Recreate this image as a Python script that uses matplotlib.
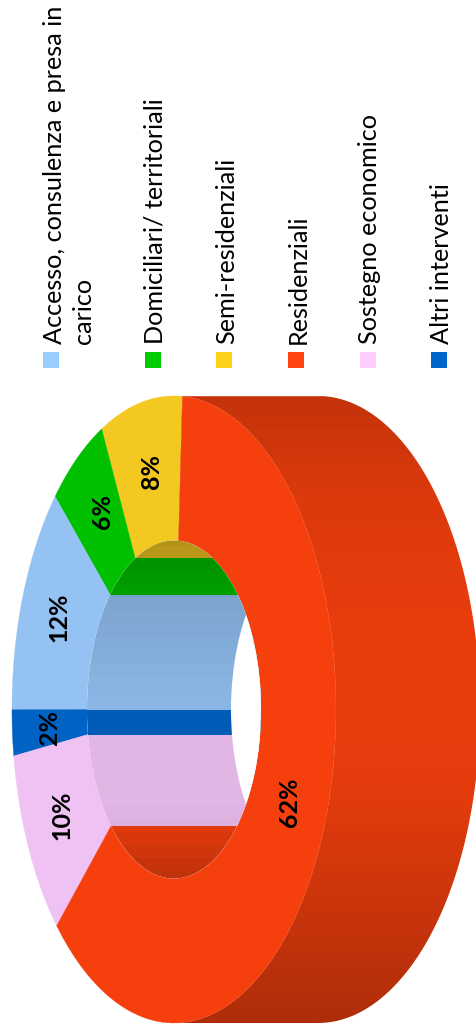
# -*- coding: utf-8 -*-

import numpy as np
from matplotlib import pyplot as plt
from matplotlib.colors import to_rgb
from matplotlib.patches import Ellipse, Polygon, Rectangle

categories = ['Accesso, consulenza e presa in\ncarico', 'Domiciliari/ territoriali',
              'Semi-residenziali', 'Residenziali', 'Sostegno economico', 'Altri interventi']
shares = [11.9, 5.75, 8.2, 62.05, 9.75, 2.35]
legend_colors = ['#99CCFF', '#00CC00', '#FFD11F', '#FF4512', '#FFCCFF', '#0066CC']
face_colors = ['#93C2F3', '#00C000', '#F3C820', '#F5400E', '#F0C1F3', '#0062C3']

# order of the slices around the ring, going from the top towards the left
ring_order = [2, 1, 0, 5, 4, 3]
start_angle = -3.0

# ring geometry in pixels
cx, cy = 174.0, 709.5
rx, ry = 162.0, 313.5
hole_rx, hole_ry = 87.0, 169.0
depth = 144.0
label_r = 0.77
label_shift = [-1.5, -2, -1, 0, 0, 2]
band = 13

legend_x = [43.5, 145, 216, 288, 360, 431.5]
text_x = [62, 163, 234, 306, 377, 449]
line_gap = 29

plt.rcParams['font.family'] = ['Lato', 'DejaVu Sans']


def arc(theta, a, b):
    t = np.radians(theta)
    return np.column_stack([cx - a * np.sin(t), cy - b * np.cos(t)])


def ring_part(t1, t2):
    th = np.linspace(t1, t2, 80)
    return np.vstack([arc(th, rx, ry), arc(th[::-1], hole_rx, hole_ry)])


def banded(y, ys, vals):
    # the shading comes in flat horizontal bands, like in the original
    return np.interp((y // band) * band + band / 2, ys, vals)


fig = plt.figure(figsize=(4.77, 10.35), dpi=100)
ax = fig.add_axes([0, 0, 1, 1])
ax.set_xlim(0, 477)
ax.set_ylim(1035, 0)
ax.axis('off')

# outer wall, only the right half shows
outer_y = [396, 500, 650, 780, 900, 1023]
outer_f = [0.80, 0.90, 0.96, 0.94, 0.83, 0.71]
th = np.linspace(180, 358, 200)
outer_pts = arc(th, rx, ry)
wall = Polygon(np.vstack([outer_pts, outer_pts[::-1] + [depth, 0]]), closed=True,
               facecolor='none', edgecolor='none')
ax.add_patch(wall)
rows = np.arange(395, 1025)
img = np.array(to_rgb('#F5400E'))[None, None, :] * banded(rows, outer_y, outer_f)[:, None, None]
im = ax.imshow(img, extent=(170, 477, rows[-1] + 1, rows[0]), aspect='auto',
               interpolation='nearest', zorder=1)
im.set_clip_path(wall)

# top face
edges = start_angle + np.cumsum([0] + [shares[i] for i in ring_order]) * 3.6
for k, i in enumerate(ring_order):
    pts = ring_part(edges[k], edges[k + 1])
    ax.add_patch(Polygon(pts, closed=True, facecolor=face_colors[i],
                         edgecolor=face_colors[i], lw=0.3, zorder=2))

# inner wall seen through the hole
hole = Ellipse((cx, cy), 2 * hole_rx, 2 * hole_ry, transform=ax.transData,
               facecolor='white', edgecolor='none', zorder=3)
ax.add_patch(hole)
inner_y = [540, 558, 600, 700, 800, 825, 878]
inner_f = [0.74, 0.76, 0.85, 0.94, 0.94, 0.92, 0.78]
rows = np.arange(538, 881)
row_theta = np.degrees(np.arccos(np.clip((cy - (rows + 0.5)) / hole_ry, -1, 1)))
slice_idx = np.clip(np.searchsorted(edges, row_theta) - 1, 0, len(ring_order) - 1)
slice_rgb = np.array([to_rgb(face_colors[i]) for i in ring_order])
img = slice_rgb[slice_idx][:, None, :] * banded(rows, inner_y, inner_f)[:, None, None]
im = ax.imshow(img, extent=(cx - hole_rx - 2, cx + hole_rx + 2, rows[-1] + 1, rows[0]),
               aspect='auto', interpolation='nearest', zorder=4)
im.set_clip_path(hole)

# what is left of the hole lets the white background through
gap = Ellipse((cx + depth, cy), 2 * hole_rx, 2 * hole_ry, facecolor='white',
              edgecolor='none', zorder=5)
ax.add_patch(gap)
gap.set_clip_path(hole)
ax.set_xlim(0, 477)
ax.set_ylim(1035, 0)

# percentages on the slices
for k, i in enumerate(ring_order):
    mid = (edges[k] + edges[k + 1]) / 2 + label_shift[k]
    x, y = arc(np.array([mid]), rx * label_r, ry * label_r)[0]
    ax.text(x, y, '%.0f%%' % shares[i], rotation=90, ha='center', va='center',
            fontsize=18, fontweight='bold', color='black', zorder=6)

# legend
for x, tx, col, name in zip(legend_x, text_x, legend_colors, categories):
    ax.add_patch(Rectangle((x, 352), 16, 16, facecolor=col, edgecolor='none'))
    for n, line in enumerate(name.split('\n')):
        ax.text(tx + n * line_gap, 344, line, rotation=90, rotation_mode='anchor',
                ha='left', va='baseline', fontsize=18.2, color='black')

fig.savefig('out.png', dpi=100)
